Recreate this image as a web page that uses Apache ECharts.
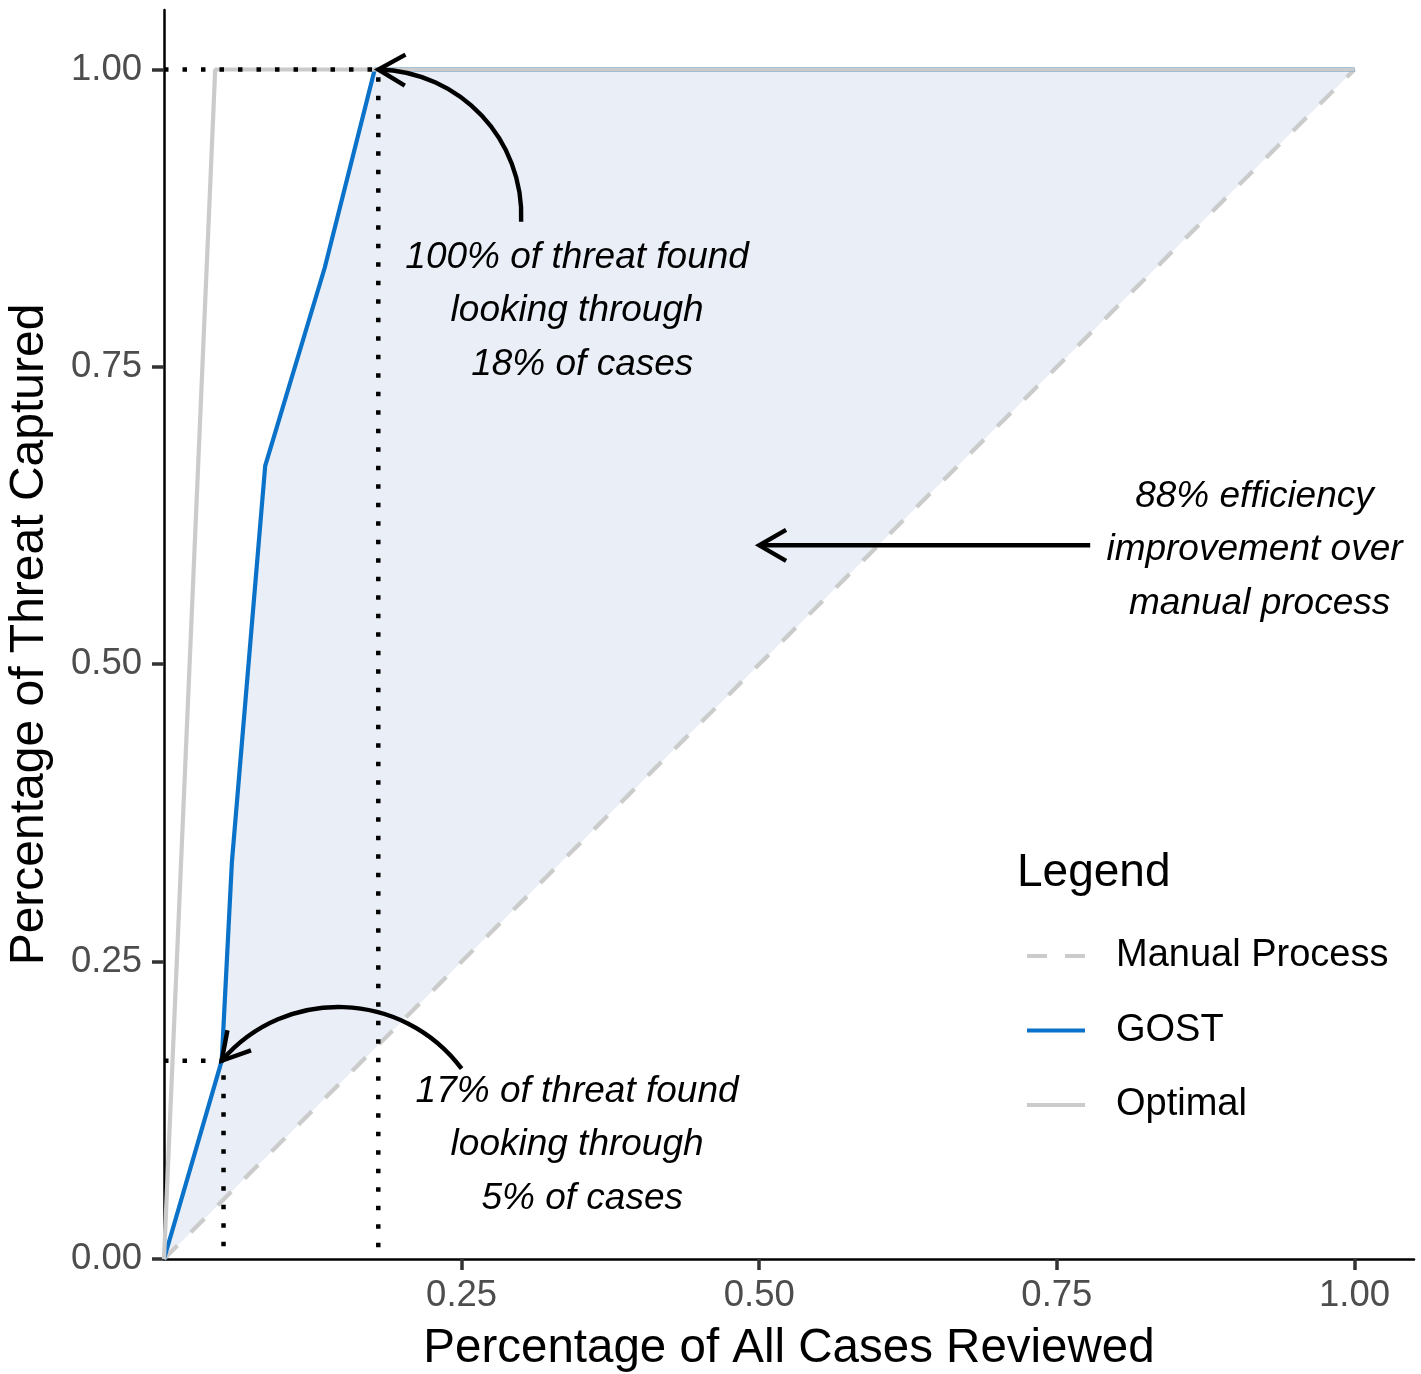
<!DOCTYPE html>
<html><head><meta charset="utf-8">
<script src="https://cdn.jsdelivr.net/npm/echarts@6/dist/echarts.min.js"></script>
<style>html,body{margin:0;padding:0;background:#fff}#c{width:1421px;height:1374px}</style>
</head><body><div id="c"></div>
<script>
// ---- data ----
const manualX = [0, 1];
const manualY = [0, 1];
const gostX = [0, 0.0485, 0.057, 0.085, 0.135, 0.177, 1];
const gostY = [0, 0.1667, 0.3333, 0.6667, 0.8333, 1, 1];
const optimalX = [0, 0.043, 1];
const optimalY = [0, 1, 1];
const guide100X = [0, 0.18, 0.18];
const guide100Y = [1, 1, 0];
const guide17X = [0, 0.05, 0.05];
const guide17Y = [0.1667, 0.1667, 0];
const xTicks = [0.25, 0.5, 0.75, 1];
const yTicks = [0, 0.25, 0.5, 0.75, 1];
const legendNames = ['Manual Process', 'GOST', 'Optimal'];
const noteTexts = [
  '100% of threat found\nlooking through\n 18% of cases',
  '17% of threat found\nlooking through\n 5% of cases',
  '88% efficiency\nimprovement over\n manual process'
];
const noteX = [0.347, 0.347, 0.916];
const noteY = [0.797, 0.096, 0.596];
const arrowX0 = [0.30, 0.25, 0.778];
const arrowY0 = [0.872, 0.160, 0.60];
const arrowX1 = [0.18, 0.0485, 0.50];
const arrowY1 = [1.0, 0.1667, 0.60];
const arrowBend = [0.21, 0.24, 0];

const FONT = '"Liberation Sans", Arial, Helvetica, sans-serif';
const zip = (a, b) => a.map((v, i) => [v, b[i]]);
const GRAY = '#cbcbcb', BLUE = '#0a72c9';

const chart = echarts.init(document.getElementById('c'), null, {renderer: 'canvas'});

function renderArea(params, api) {
  const pts = zip(gostX, gostY).concat(zip(manualX, manualY).reverse()).map(p => api.coord(p));
  return {type: 'polygon', shape: {points: pts}, style: {fill: '#e9eef7', stroke: null}};
}

function renderArrow(params, api) {
  const p0 = api.coord([api.value(0), api.value(1)]);
  const p1 = api.coord([api.value(2), api.value(3)]);
  const s = api.value(4);
  const dx = p1[0] - p0[0], dy = p1[1] - p0[1];
  const c = Math.hypot(dx, dy);
  const u = [dx / c, dy / c];
  const n = [-u[1], u[0]];
  const children = [];
  const LW = 4.4;
  let t1;
  if (Math.abs(s) < 1e-6) {
    children.push({type: 'line', shape: {x1: p0[0], y1: p0[1], x2: p1[0], y2: p1[1]},
      style: {stroke: '#000', lineWidth: LW}});
    t1 = u;
  } else {
    const th = 2 * Math.atan(2 * s);
    const R = (c / 2) / Math.sin(th);
    const h = (4 / 3) * Math.tan(th / 2) * R;
    const ct = Math.cos(th), st = Math.sin(th);
    const t0 = [ct * u[0] + st * n[0], ct * u[1] + st * n[1]];
    t1 = [ct * u[0] - st * n[0], ct * u[1] - st * n[1]];
    children.push({type: 'bezierCurve', shape: {
      x1: p0[0], y1: p0[1], x2: p1[0], y2: p1[1],
      cpx1: p0[0] + h * t0[0], cpy1: p0[1] + h * t0[1],
      cpx2: p1[0] - h * t1[0], cpy2: p1[1] - h * t1[1]
    }, style: {stroke: '#000', lineWidth: LW, fill: null}});
  }
  const b = [-t1[0], -t1[1]];
  const L = 31, a = Math.PI / 6;
  const rot = (v, ang) => [v[0] * Math.cos(ang) - v[1] * Math.sin(ang), v[0] * Math.sin(ang) + v[1] * Math.cos(ang)];
  const r1 = rot(b, a), r2 = rot(b, -a);
  children.push({type: 'polyline', shape: {points: [
    [p1[0] + L * r1[0], p1[1] + L * r1[1]], [p1[0], p1[1]], [p1[0] + L * r2[0], p1[1] + L * r2[1]]
  ]}, style: {stroke: '#000', lineWidth: LW, fill: null, lineJoin: 'miter'}});
  return {type: 'group', children};
}

function renderNote(params, api) {
  const p = api.coord([api.value(0), api.value(1)]);
  return {type: 'text', x: p[0], y: p[1], style: {
    text: noteTexts[api.value(2)], fill: '#000', fontSize: 37, fontStyle: 'italic',
    fontFamily: FONT, align: 'center', verticalAlign: 'middle', lineHeight: 53.5
  }};
}

const option = {
  animation: false,
  backgroundColor: '#fff',
  textStyle: {fontFamily: FONT},
  title: {text: 'Legend', left: 1017, top: 850, padding: 0,
    textStyle: {fontSize: 46, fontWeight: 'normal', color: '#000', fontFamily: FONT}},
  legend: {
    data: [
      {name: legendNames[0], icon: 'path://M0,0H20V4H0Z M38,0H58V4H38Z'},
      {name: legendNames[1], icon: 'rect'},
      {name: legendNames[2], icon: 'rect'}
    ],
    orient: 'vertical', left: 1027, top: 936, padding: 0,
    itemWidth: 58, itemHeight: 4, itemGap: 34.5,
    textStyle: {fontSize: 38, color: '#000', fontFamily: FONT, lineHeight: 40, padding: [0, 0, 0, 26]},
    selectedMode: false
  },
  grid: {left: 164, right: 7, top: 10, bottom: 115, containLabel: false, outerBoundsMode: 'none'},
  xAxis: {
    type: 'value', min: 0, max: 1.05,
    splitLine: {show: false},
    axisLine: {show: true, onZero: false, lineStyle: {color: '#000', width: 2.5}},
    axisTick: {show: true, customValues: xTicks, length: 11, lineStyle: {color: '#333', width: 3.5}},
    axisLabel: {customValues: xTicks, formatter: v => Number(v).toFixed(2), fontSize: 36.5, color: '#4d4d4d', margin: 18, fontFamily: FONT},
    name: 'Percentage of All Cases Reviewed', nameLocation: 'middle', nameGap: 66,
    nameTextStyle: {fontSize: 47.5, color: '#000', fontFamily: FONT}
  },
  yAxis: {
    type: 'value', min: 0, max: 1.05,
    splitLine: {show: false},
    axisLine: {show: true, onZero: false, lineStyle: {color: '#000', width: 2.5}},
    axisTick: {show: true, customValues: yTicks, length: 12, lineStyle: {color: '#333', width: 3.5}},
    axisLabel: {customValues: yTicks, formatter: v => Number(v).toFixed(2), fontSize: 36.5, color: '#4d4d4d', margin: 22, fontFamily: FONT},
    name: 'Percentage of Threat Captured', nameLocation: 'middle', nameGap: 110,
    nameTextStyle: {fontSize: 48, color: '#000', fontFamily: FONT}
  },
  series: [
    {type: 'custom', name: 'area', renderItem: renderArea, data: [[0, 0]], clip: false, z: 1, silent: true},
    {type: 'line', name: legendNames[0], data: zip(manualX, manualY), symbol: 'none', showSymbol: false, z: 2,
      lineStyle: {color: GRAY, width: 4.2, type: [19, 19]}, itemStyle: {color: GRAY}},
    {type: 'line', name: legendNames[1], data: zip(gostX, gostY), symbol: 'none', showSymbol: false, z: 3,
      lineStyle: {color: BLUE, width: 4.2}, itemStyle: {color: BLUE}},
    {type: 'line', name: legendNames[2], data: zip(optimalX, optimalY), symbol: 'none', showSymbol: false, z: 4,
      lineStyle: {color: GRAY, width: 4.2}, itemStyle: {color: GRAY}},
    {type: 'line', name: 'guide100', data: zip(guide100X, guide100Y), symbol: 'none', showSymbol: false, z: 5,
      lineStyle: {color: '#000', width: 4.5, type: [4.5, 14], cap: 'butt'}},
    {type: 'line', name: 'guide17', data: zip(guide17X, guide17Y), symbol: 'none', showSymbol: false, z: 5,
      lineStyle: {color: '#000', width: 4.5, type: [4.5, 14], cap: 'butt'}},
    {type: 'custom', name: 'arrows', renderItem: renderArrow, clip: false, z: 6, silent: true,
      data: arrowX0.map((v, i) => [v, arrowY0[i], arrowX1[i], arrowY1[i], arrowBend[i]])},
    {type: 'custom', name: 'notes', renderItem: renderNote, clip: false, z: 7, silent: true,
      data: noteX.map((v, i) => [v, noteY[i], i])}
  ]
};
chart.setOption(option);
</script>
</body></html>
